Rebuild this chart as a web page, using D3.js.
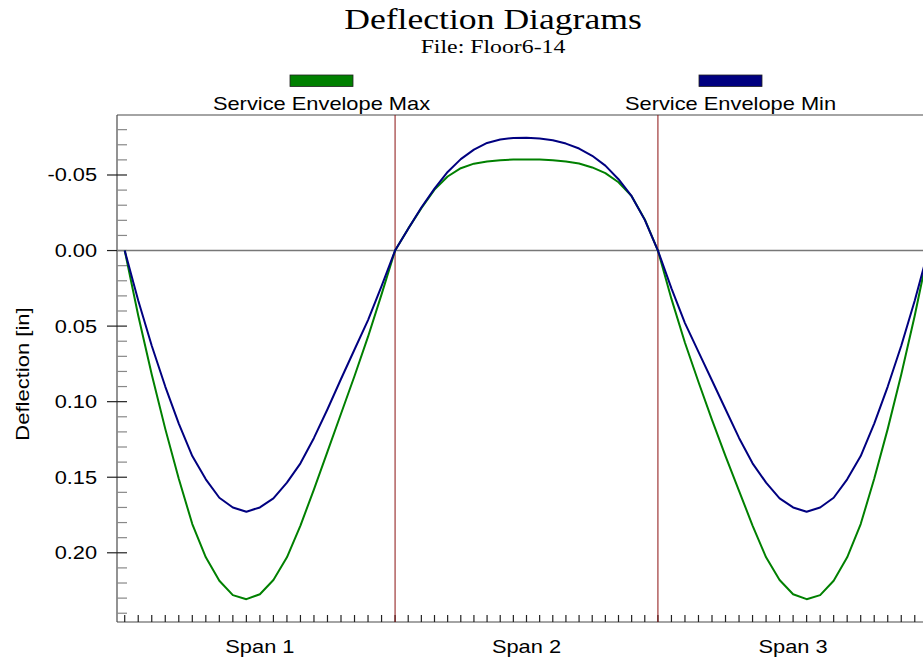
<!DOCTYPE html>
<html>
<head>
<meta charset="utf-8">
<title>Deflection Diagrams</title>
<script src="https://cdn.jsdelivr.net/npm/d3@7"></script>
<style>
	html, body { margin: 0; padding: 0; background: #fff; overflow: hidden; }
	#graph { display: block; }
</style>
</head>
<body>
<svg id="graph" width="923" height="659"></svg>
<script>
;(() => {
	'use strict';

	const spanLabels = ['Span 1', 'Span 2', 'Span 3'],
		spanLengths = [27, 26.25, 27];

	const seriesNames = ['Service Envelope Max', 'Service Envelope Min'];

	// deflection at every 1/20 of each span [in]
	const maxSpan1 = [0, 0.043, 0.082, 0.118, 0.151, 0.181, 0.203, 0.2185, 0.228, 0.2307, 0.2274, 0.218, 0.203, 0.182, 0.158, 0.133, 0.108, 0.083, 0.057, 0.029, 0],
		maxSpan2 = [0, -0.0145, -0.028, -0.0403, -0.049, -0.0545, -0.0575, -0.059, -0.0598, -0.0602, -0.0603, -0.0602, -0.0598, -0.059, -0.0576, -0.055, -0.0512, -0.0452, -0.036, -0.0206, 0],
		maxSpan3 = [0, 0.032, 0.061, 0.087, 0.112, 0.136, 0.159, 0.182, 0.203, 0.218, 0.2274, 0.2307, 0.228, 0.2185, 0.203, 0.181, 0.151, 0.118, 0.082, 0.043, 0];

	const minSpan1 = [0, 0.033, 0.063, 0.090, 0.1145, 0.136, 0.1514, 0.1636, 0.170, 0.1728, 0.170, 0.164, 0.1536, 0.1408, 0.124, 0.105, 0.085, 0.0655, 0.046, 0.0235, 0],
		minSpan2 = [0, -0.0145, -0.0285, -0.041, -0.052, -0.0605, -0.0668, -0.0712, -0.0735, -0.0745, -0.0746, -0.0742, -0.073, -0.0708, -0.0675, -0.0627, -0.0562, -0.0472, -0.036, -0.0203, 0],
		minSpan3 = [0, 0.025, 0.048, 0.067, 0.086, 0.105, 0.124, 0.1408, 0.1536, 0.164, 0.170, 0.1728, 0.170, 0.1636, 0.1514, 0.136, 0.1145, 0.090, 0.063, 0.033, 0];

	const yMajorTicks = [-0.05, 0.00, 0.05, 0.10, 0.15, 0.20],
		yMinorTicks = d3.range(-8, 25).map((i) => i / 100),
		yDomain = [-0.0897, 0.2458];

	const colors = ['#008000', '#000080'],
		sansFont = '"Liberation Sans", Arial, sans-serif',
		serifFont = '"Liberation Serif", "Times New Roman", serif',
		stretch = 1.2;

	const plot = {left: 117, top: 115, bottom: 622, right: 936},
		leftPad = 0.77;

	const totalLength = d3.sum(spanLengths),
		spanStarts = spanLengths.map((l, i) => d3.sum(spanLengths.slice(0, i)));

	const xScale = d3.scaleLinear()
			.domain([-leftPad, totalLength + leftPad])
			.range([plot.left, plot.right]),
		yScale = d3.scaleLinear().domain(yDomain).range([plot.top, plot.bottom]);

	const svg = d3.select('#graph');


	/**
	* turn per-span arrays into points along the beam
	* @returns {Array}
	*/
	const toPoints = function(spans) {
		const pts = [];
		spans.forEach((vals, s) => {
			vals.forEach((v, k) => {
				if (s > 0 && k === 0) { return; }
				pts.push({x: spanStarts[s] + spanLengths[s] * k / (vals.length - 1), y: v});
			});
		});
		return pts;
	};


	/**
	* text with the wide look of the original renderer
	* @returns {selection}
	*/
	const wideText = function(x, y, str, size, family, anchor, sx, rotate) {
		return svg.append('text')
			.attr('transform', `translate(${x},${y})` + (rotate ? ` rotate(${rotate})` : '') + ` scale(${sx},1)`)
			.attr('text-anchor', anchor || 'middle')
			.style('font-family', family)
			.style('font-size', size + 'px')
			.attr('fill', '#000')
			.text(str);
	};


	// titles
	wideText(493, 28.5, 'Deflection Diagrams', 28.5, serifFont, 'middle', 1.25);
	wideText(493, 53, 'File: Floor6-14', 19.5, serifFont, 'middle', 1.22);

	// legend
	const legendX = [321.5, 730.5];
	seriesNames.forEach((name, i) => {
		svg.append('rect')
			.attr('x', legendX[i] - 31.5)
			.attr('y', 75)
			.attr('width', 63)
			.attr('height', 11.5)
			.attr('fill', colors[i])
			.attr('stroke', '#222')
			.attr('stroke-width', 0.8);
		wideText(legendX[i], 110, name, 18.2, sansFont, 'middle', stretch);
	});

	// frame
	const frame = svg.append('g')
		.attr('stroke', '#4a4a4a')
		.attr('stroke-width', 1.2);
	frame.append('line').attr('x1', plot.left).attr('x2', plot.right).attr('y1', plot.top).attr('y2', plot.top);
	frame.append('line').attr('x1', plot.left).attr('x2', plot.right).attr('y1', plot.bottom).attr('y2', plot.bottom);
	frame.append('line').attr('x1', plot.left).attr('x2', plot.left).attr('y1', plot.top).attr('y2', plot.bottom);

	// y ticks
	svg.append('g').selectAll('line')
		.data(yMinorTicks.filter((t) => !yMajorTicks.some((m) => Math.abs(m - t) < 1e-9)))
		.enter()
		.append('line')
		.attr('x1', plot.left).attr('x2', plot.left + 10)
		.attr('y1', (d) => yScale(d)).attr('y2', (d) => yScale(d))
		.attr('stroke', '#888')
		.attr('stroke-width', 1.2);

	svg.append('g').selectAll('line')
		.data(yMajorTicks)
		.enter()
		.append('line')
		.attr('x1', plot.left - 10).attr('x2', plot.left + 10)
		.attr('y1', (d) => yScale(d)).attr('y2', (d) => yScale(d))
		.attr('stroke', '#222')
		.attr('stroke-width', 1.2);

	yMajorTicks.forEach((t) => {
		wideText(97, yScale(t) + 6.5, t.toFixed(2), 17.7, sansFont, 'end', 1.23);
	});

	wideText(28.5, 374, 'Deflection [in]', 18.2, sansFont, 'middle', 1.21, -90);

	// x ticks, every 1/20 of a span
	const xTicks = [];
	spanLengths.forEach((l, s) => {
		d3.range(0, 21).forEach((k) => {
			if (s > 0 && k === 0) { return; }
			xTicks.push(spanStarts[s] + l * k / 20);
		});
	});
	svg.append('g').selectAll('line')
		.data(xTicks)
		.enter()
		.append('line')
		.attr('x1', (d) => xScale(d)).attr('x2', (d) => xScale(d))
		.attr('y1', plot.bottom).attr('y2', plot.bottom - 7)
		.attr('stroke', '#222')
		.attr('stroke-width', 1.2);

	spanLabels.forEach((lab, s) => {
		wideText(xScale(spanStarts[s] + spanLengths[s] / 2), 652.5, lab, 18.2, sansFont, 'middle', stretch);
	});

	// zero line
	svg.append('line')
		.attr('x1', plot.left).attr('x2', plot.right)
		.attr('y1', yScale(0)).attr('y2', yScale(0))
		.attr('stroke', '#777')
		.attr('stroke-width', 1.5);

	// supports
	svg.append('g').selectAll('line')
		.data(spanStarts.slice(1))
		.enter()
		.append('line')
		.attr('x1', (d) => xScale(d)).attr('x2', (d) => xScale(d))
		.attr('y1', plot.top).attr('y2', plot.bottom)
		.attr('stroke', '#8b1010')
		.attr('stroke-width', 1);

	// curves
	const line = d3.line()
		.x((d) => xScale(d.x))
		.y((d) => yScale(d.y));

	[[maxSpan1, maxSpan2, maxSpan3], [minSpan1, minSpan2, minSpan3]].forEach((spans, i) => {
		svg.append('path')
			.datum(toPoints(spans))
			.attr('d', line)
			.attr('fill', 'none')
			.attr('stroke', colors[i])
			.attr('stroke-width', 2)
			.attr('stroke-linejoin', 'round');
	});

})();
</script>
</body>
</html>
